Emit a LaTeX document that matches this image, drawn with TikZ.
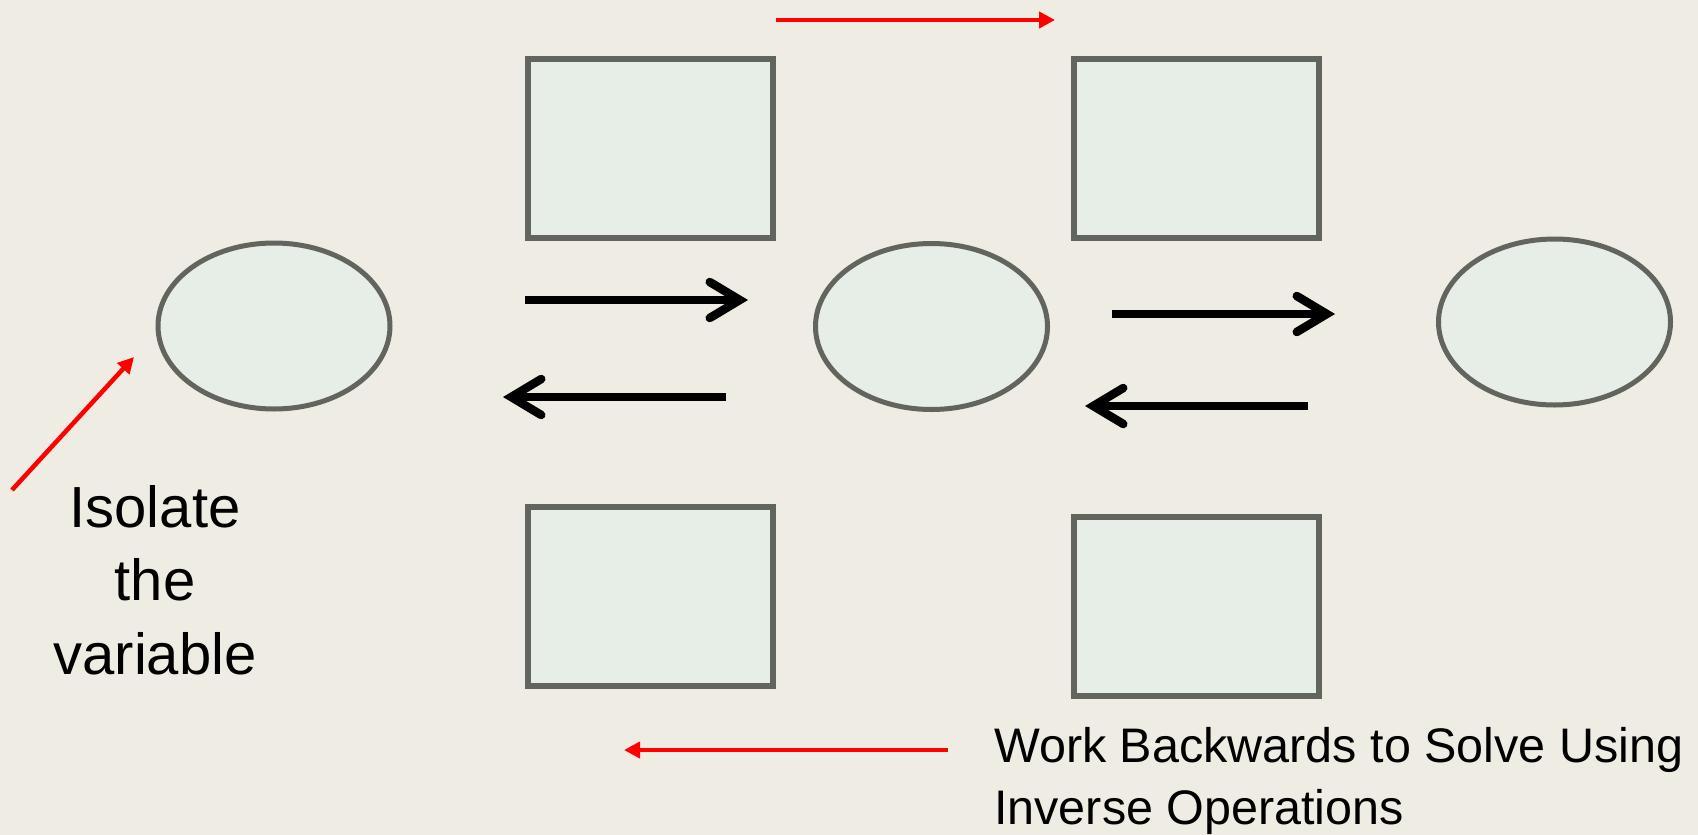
\documentclass[tikz,border=0pt]{standalone}
\usepackage{fontspec}
\setmainfont{Liberation Sans}
\usetikzlibrary{arrows.meta,shapes.geometric}
\definecolor{bgbeige}{HTML}{EFECE3}
\definecolor{shapefill}{HTML}{E7EEE7}
\definecolor{shapeline}{HTML}{62645E}
\tikzset{
	boxnode/.style={draw=shapeline, fill=shapefill, line width=6pt, minimum width=245pt, minimum height=179pt, inner sep=0pt},
	ovalnode/.style={ellipse, draw=shapeline, fill=shapefill, line width=5pt, minimum width=232pt, minimum height=166pt, inner sep=0pt},
	steparrow/.style={line width=8.5pt, -{Straight Barb[length=30pt, width=36pt, line width=0pt 1, line cap=round, line join=miter]}},
	redarrow/.style={red, line width=4.5pt, -{Triangle[length=16pt, width=16pt]}}
}
\begin{document}
\begin{tikzpicture}[x=1pt, y=-1pt]
		\fill[bgbeige] (0,0) rectangle (1698,835);
		\useasboundingbox (0,0) rectangle (1698,835);
		
		\foreach \n/\x/\y in {B1/650.5/148.5, B2/1196/148.5, B3/650.5/596.5, B4/1196/606.5}
		{
			\node[boxnode] (\n) at (\x,\y) {};
		}
		\foreach \n/\x/\y in {E1/274/326, E2/931.5/326.5, E3/1554.5/322}
		{
			\node[ovalnode] (\n) at (\x,\y) {};
		}
		
		\foreach \i/\xa/\ya/\xb/\yb in {1/525/300/748/300, 2/726/397/503/397, 3/1112/314/1335/314, 4/1308/406/1085/406}
		{
			\coordinate (s\i) at (\xa,\ya);
			\coordinate (t\i) at (\xb,\yb);
			\draw[steparrow] (s\i) -- (t\i);
		}
		
		\coordinate (r1s) at (776,20);
		\coordinate (r1t) at (1055,20);
		\coordinate (r2s) at (12,490);
		\coordinate (r2t) at (134,357);
		\coordinate (r3s) at (948,750);
		\coordinate (r3t) at (624,750);
		\draw[redarrow] (r1s) -- (r1t);
		\draw[redarrow] (r2s) -- (r2t);
		\draw[redarrow] (r3s) -- (r3t);
		
		\node[anchor=base, align=center, inner sep=0pt, font=\fontsize{58pt}{73.5pt}\selectfont] (isolate) at (155,674) {Isolate\\the\\variable};
		\node[anchor=base west, align=left, inner sep=0pt, font=\fontsize{48.5pt}{62pt}\selectfont] (workback) at (994,824) {Work Backwards to Solve Using\\Inverse Operations};
		
	\end{tikzpicture}
\end{document}
